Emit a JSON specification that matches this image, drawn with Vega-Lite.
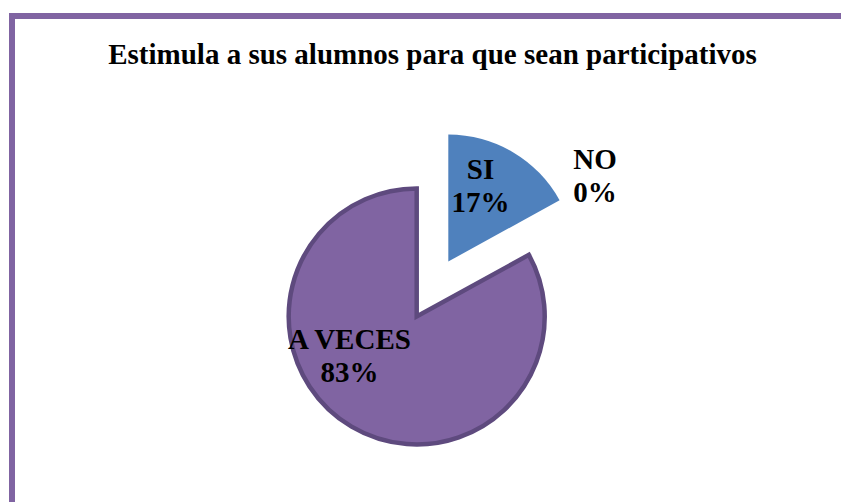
{
  "$schema": "https://vega.github.io/schema/vega-lite/v6.json",
  "width": 841,
  "height": 546,
  "autosize": {"type": "none"},
  "padding": {"left": 12, "top": 16, "right": 0, "bottom": 0},
  "background": "white",
  "view": {"stroke": "#8064a2", "strokeWidth": 6, "fill": "white"},
  "title": {
    "text": "Estimula a sus alumnos para que sean participativos",
    "font": "Liberation Serif",
    "fontSize": 29,
    "fontWeight": "bold",
    "color": "black",
    "anchor": "middle",
    "frame": "group",
    "baseline": "alphabetic",
    "offset": -77
  },
  "data": {
    "values": [
      {"categoria": "SI", "valor": 17, "orden": 1, "etiqueta": "SI\n17%"},
      {"categoria": "NO", "valor": 0, "orden": 2, "etiqueta": "NO\n0%"},
      {"categoria": "A VECES", "valor": 83, "orden": 3, "etiqueta": "A VECES\n83%"}
    ]
  },
  "layer": [
    {
      "transform": [
        {"stack": "valor", "groupby": [], "as": ["ini", "fin"], "sort": [{"field": "orden", "order": "ascending"}]},
        {"filter": "datum.categoria === 'A VECES'"}
      ],
      "mark": {"type": "arc", "outerRadius": 128, "xOffset": -15.8, "yOffset": 27.5, "fill": "#8064a2", "stroke": "#5e4a7e", "strokeWidth": 4.5},
      "encoding": {
        "theta": {"field": "ini", "type": "quantitative", "scale": {"domain": [0, 100]}},
        "theta2": {"field": "fin"}
      }
    },
    {
      "transform": [
        {"stack": "valor", "groupby": [], "as": ["ini", "fin"], "sort": [{"field": "orden", "order": "ascending"}]},
        {"filter": "datum.categoria === 'SI'"}
      ],
      "mark": {"type": "arc", "outerRadius": 127, "xOffset": 15.8, "yOffset": -27.5, "fill": "#4f81bd"},
      "encoding": {
        "theta": {"field": "ini", "type": "quantitative", "scale": {"domain": [0, 100]}},
        "theta2": {"field": "fin"}
      }
    },
    {
      "mark": {"type": "text", "radius": 113, "dx": -9.5, "dy": -21.9, "align": "center", "baseline": "middle", "lineBreak": "\n", "lineHeight": 33, "font": "Liberation Serif", "fontSize": 29, "fontWeight": "bold", "color": "black"},
      "encoding": {
        "theta": {"field": "valor", "type": "quantitative", "stack": true},
        "order": {"field": "orden"},
        "text": {"condition": {"test": "datum.categoria === 'SI'", "field": "etiqueta"}, "value": ""}
      }
    },
    {
      "mark": {"type": "text", "radius": 190, "dx": -4, "dy": -37.6, "align": "center", "baseline": "middle", "lineBreak": "\n", "lineHeight": 33, "font": "Liberation Serif", "fontSize": 29, "fontWeight": "bold", "color": "black"},
      "encoding": {
        "theta": {"field": "valor", "type": "quantitative", "stack": true},
        "order": {"field": "orden"},
        "text": {"condition": {"test": "datum.categoria === 'NO'", "field": "etiqueta"}, "value": ""}
      }
    },
    {
      "mark": {"type": "text", "radius": 80, "dx": -42.3, "dy": -18, "align": "center", "baseline": "middle", "lineBreak": "\n", "lineHeight": 33, "font": "Liberation Serif", "fontSize": 29, "fontWeight": "bold", "color": "black"},
      "encoding": {
        "theta": {"field": "valor", "type": "quantitative", "stack": true},
        "order": {"field": "orden"},
        "text": {"condition": {"test": "datum.categoria === 'A VECES'", "field": "etiqueta"}, "value": ""}
      }
    }
  ]
}
